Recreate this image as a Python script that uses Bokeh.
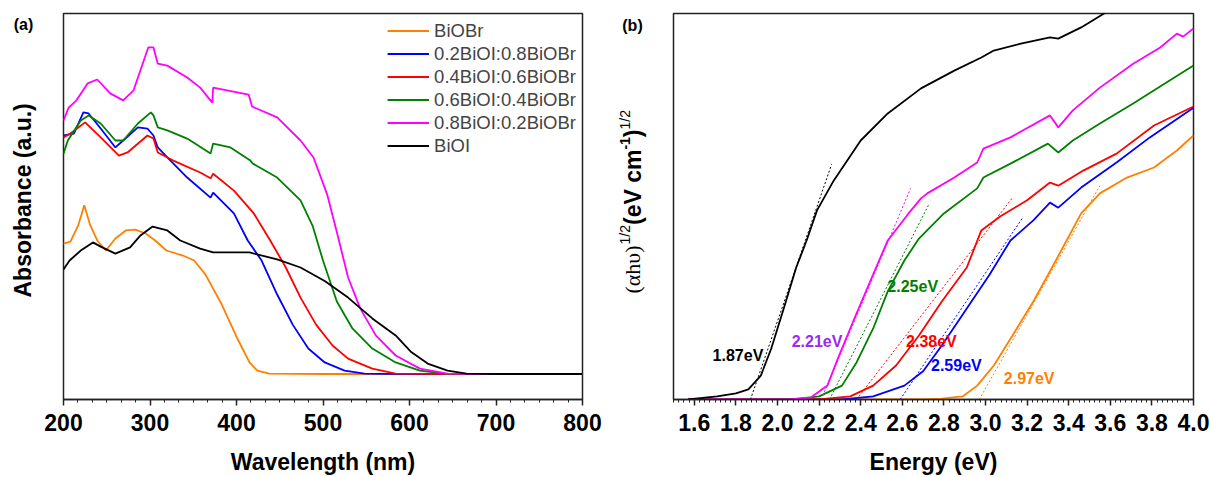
import math
from bokeh.plotting import figure
from bokeh.models import Range1d, FixedTicker, NumeralTickFormatter, Legend, LegendItem, ColumnDataSource
from bokeh.layouts import row
from bokeh.embed import file_html
from bokeh.resources import INLINE
from bokeh.core.properties import value

# ---------------- Panel (a): absorbance spectra ----------------
series_names = ["BiOBr", "0.2BiOI:0.8BiOBr", "0.4BiOI:0.6BiOBr",
                "0.6BiOI:0.4BiOBr", "0.8BiOI:0.2BiOBr", "BiOI"]
series_colors = ["#FF8000", "#0000FF", "#FF0000", "#008000", "#FF00FF", "#000000"]

wl_biobr = [200, 208, 217, 224, 231, 239, 249, 260, 272, 283, 295, 306, 319, 338, 351, 364,
            383, 401, 415, 424, 438, 500, 600, 700, 800]
ab_biobr = [0.404, 0.409, 0.451, 0.503, 0.451, 0.412, 0.386, 0.417, 0.438, 0.440, 0.430, 0.412,
            0.386, 0.373, 0.360, 0.324, 0.246, 0.158, 0.096, 0.075, 0.067, 0.066, 0.066, 0.066, 0.066]

wl_02 = [200, 212, 223, 229, 243, 260, 269, 286, 297, 304, 309, 320, 343, 370, 373, 397, 413,
         429, 447, 465, 483, 502, 525, 548, 600, 700, 800]
ab_02 = [0.684, 0.689, 0.744, 0.741, 0.702, 0.653, 0.671, 0.705, 0.702, 0.684, 0.653, 0.627,
         0.575, 0.523, 0.536, 0.482, 0.412, 0.360, 0.272, 0.194, 0.132, 0.096, 0.075, 0.067,
         0.066, 0.066, 0.066]

wl_04 = [200, 208, 225, 243, 264, 274, 297, 304, 309, 327, 358, 370, 373, 397, 420, 439, 457,
         474, 492, 511, 529, 557, 584, 650, 800]
ab_04 = [0.679, 0.689, 0.718, 0.679, 0.632, 0.640, 0.684, 0.676, 0.640, 0.619, 0.588, 0.573,
         0.585, 0.541, 0.482, 0.412, 0.342, 0.264, 0.194, 0.140, 0.106, 0.080, 0.067, 0.066, 0.066]

wl_06 = [200, 205, 220, 229, 243, 260, 269, 286, 301, 304, 309, 320, 343, 370, 373, 393, 416,
         419, 447, 474, 488, 500, 516, 534, 557, 584, 612, 640, 700, 800]
ab_06 = [0.637, 0.671, 0.723, 0.736, 0.715, 0.671, 0.671, 0.715, 0.744, 0.736, 0.705, 0.697,
         0.676, 0.637, 0.663, 0.653, 0.619, 0.611, 0.575, 0.516, 0.450, 0.360, 0.254, 0.184,
         0.132, 0.096, 0.075, 0.067, 0.066, 0.066]

wl_08 = [200, 206, 215, 228, 239, 254, 269, 281, 298, 304, 309, 320, 343, 358, 372, 373, 414,
         418, 447, 474, 489, 505, 517, 529, 543, 561, 584, 612, 644, 700, 800]
ab_08 = [0.723, 0.756, 0.775, 0.819, 0.829, 0.793, 0.775, 0.801, 0.912, 0.912, 0.870, 0.865,
         0.834, 0.808, 0.769, 0.808, 0.790, 0.759, 0.731, 0.671, 0.627, 0.530, 0.425, 0.316,
         0.236, 0.166, 0.114, 0.080, 0.067, 0.066, 0.066]

wl_bioi = [200, 207, 220, 234, 243, 260, 277, 289, 303, 320, 335, 358, 373, 415, 447, 474, 502,
           529, 557, 584, 602, 621, 644, 666, 700, 800]
ab_bioi = [0.337, 0.360, 0.386, 0.407, 0.396, 0.378, 0.394, 0.425, 0.448, 0.438, 0.412, 0.391,
           0.381, 0.381, 0.363, 0.342, 0.307, 0.264, 0.210, 0.166, 0.123, 0.093, 0.075, 0.067,
           0.066, 0.066]

wl_ticks = [200, 300, 400, 500, 600, 700, 800]

# ---------------- Panel (b): Tauc plots ----------------
en_biobr = [1.57, 2.70, 2.79, 2.89, 2.96, 3.04, 3.13, 3.23, 3.32, 3.39, 3.46, 3.55, 3.68, 3.81, 3.92, 4.00]
ta_biobr = [0.0, 0.0, 0.002, 0.008, 0.036, 0.088, 0.166, 0.254, 0.342, 0.412, 0.482, 0.534,
            0.575, 0.601, 0.645, 0.684]

en_02 = [1.57, 2.31, 2.46, 2.61, 2.70, 2.79, 2.91, 3.02, 3.12, 3.23, 3.31, 3.35, 3.46, 3.63, 3.79, 4.00]
ta_02 = [0.0, 0.0, 0.008, 0.036, 0.073, 0.140, 0.236, 0.324, 0.412, 0.464, 0.510, 0.497, 0.549,
         0.614, 0.679, 0.756]

en_04 = [1.57, 2.20, 2.35, 2.46, 2.57, 2.68, 2.79, 2.91, 2.98, 3.07, 3.20, 3.31, 3.35, 3.47, 3.63, 3.81, 4.00]
ta_04 = [0.0, 0.0, 0.008, 0.036, 0.088, 0.166, 0.254, 0.342, 0.438, 0.474, 0.516, 0.562, 0.554,
         0.593, 0.637, 0.710, 0.759]

en_06 = [1.57, 2.07, 2.20, 2.31, 2.38, 2.46, 2.53, 2.61, 2.68, 2.80, 2.96, 2.99, 3.12, 3.30, 3.35,
         3.42, 3.55, 3.71, 3.87, 4.00]
ta_06 = [0.0, 0.0, 0.008, 0.036, 0.096, 0.184, 0.280, 0.360, 0.417, 0.482, 0.547, 0.575, 0.611,
         0.663, 0.640, 0.671, 0.715, 0.767, 0.821, 0.865]

en_08 = [1.57, 2.05, 2.16, 2.24, 2.29, 2.37, 2.46, 2.53, 2.63, 2.69, 2.72, 2.85, 2.96, 2.99, 3.12,
         3.31, 3.35, 3.42, 3.55, 3.71, 3.84, 3.92, 3.95, 4.00]
ta_08 = [0.0, 0.0, 0.005, 0.036, 0.106, 0.210, 0.324, 0.412, 0.482, 0.521, 0.534, 0.575, 0.614,
         0.650, 0.679, 0.736, 0.705, 0.749, 0.808, 0.870, 0.912, 0.948, 0.940, 0.961]

en_bioi = [1.57, 1.71, 1.80, 1.86, 1.92, 1.97, 2.03, 2.09, 2.14, 2.19, 2.27, 2.40, 2.53, 2.69, 2.85,
           2.98, 3.04, 3.17, 3.31, 3.35, 3.46, 3.57, 3.70]
ta_bioi = [0.0, 0.008, 0.016, 0.026, 0.062, 0.132, 0.236, 0.342, 0.412, 0.490, 0.567, 0.671,
           0.741, 0.806, 0.852, 0.886, 0.904, 0.922, 0.938, 0.935, 0.964, 1.0, 1.041]

# band-gap tangent lines: start energy = Eg, end energy, end value
tan_start = [2.97, 2.59, 2.38, 2.25, 2.21, 1.87]
tan_end_e = [3.55, 3.18, 3.13, 2.73, 2.64, 2.26]
tan_end_v = [0.554, 0.472, 0.523, 0.508, 0.547, 0.609]

gap_text = ["2.97eV", "2.59eV", "2.38eV", "2.25eV", "2.21eV", "1.87eV"]
gap_x = [3.21, 2.86, 2.74, 2.65, 2.19, 1.81]
gap_y = [0.054, 0.088, 0.150, 0.293, 0.150, 0.114]
gap_colors = ["#FF8000", "#0000FF", "#FF0000", "#008000", "#9A2BF0", "#000000"]

en_ticks = [1.6, 1.8, 2.0, 2.2, 2.4, 2.6, 2.8, 3.0, 3.2, 3.4, 3.6, 3.8, 4.0]

FONT = "Liberation Sans"
AX = "#222222"
H = 477
TOP, BOT = 13, 78          # borders above / below the plot frames
FH = H - TOP - BOT         # frame height (386)


def style(p, ticks, minor):
    p.outline_line_color = AX
    p.outline_line_width = 1.5
    p.xgrid.visible = False
    p.ygrid.visible = False
    p.yaxis.visible = False
    p.background_fill_color = "white"
    p.border_fill_color = "white"
    xa = p.xaxis[0]
    xa.ticker = FixedTicker(ticks=ticks, minor_ticks=minor)
    xa.axis_line_color = AX
    xa.axis_line_width = 1.5
    xa.major_tick_in = 0
    xa.major_tick_out = 6
    xa.minor_tick_in = 0
    xa.minor_tick_out = 3
    xa.major_tick_line_color = AX
    xa.minor_tick_line_color = AX
    xa.major_tick_line_width = 1.5
    xa.minor_tick_line_width = 1
    xa.major_label_text_font = FONT
    xa.major_label_text_font_size = "23px"
    xa.major_label_text_font_style = "bold"
    xa.major_label_text_color = "black"
    xa.major_label_standoff = 8
    xa.axis_label_text_font = FONT
    xa.axis_label_text_font_size = "23px"
    xa.axis_label_text_font_style = "bold"
    xa.axis_label_text_color = "black"
    xa.axis_label_standoff = 15


def label_fig(x0, w):
    # a blank strip whose data coordinates equal page pixels (y measured upward from page bottom)
    f = figure(frame_width=w, frame_height=FH, x_range=Range1d(x0, x0 + w),
               y_range=Range1d(BOT, H - TOP),
               x_axis_type=None, y_axis_type=None, output_backend="svg", toolbar_location=None,
               min_border_left=0, min_border_right=0, min_border_top=TOP, min_border_bottom=BOT)
    f.outline_line_color = None
    f.xgrid.visible = False
    f.ygrid.visible = False
    f.background_fill_color = "white"
    f.border_fill_color = "white"
    return f


# ---- left label strip (page x 0..38)
la = label_fig(0, 38)
la.text(x=[22], y=[H - 297], text=["Absorbance (a.u.)"], angle=math.pi / 2, text_align="left",
        text_baseline="middle", text_font=value(FONT), text_font_size="23px",
        text_font_style="bold", text_color="black")
la.text(x=[23], y=[H - 24], text=["(a)"], text_align="center", text_baseline="middle",
        text_font=value(FONT), text_font_size="16px", text_font_style="bold", text_color="black")

# ---- figure (a): frame page x 63..582, y 13..399
pa = figure(frame_width=519, frame_height=FH, x_range=Range1d(200, 800), y_range=Range1d(0, 1),
            output_backend="svg", toolbar_location=None,
            min_border_left=25, min_border_right=22, min_border_top=TOP, min_border_bottom=BOT)
minor_a = [200 + i * 100 / 6 for i in range(37)]
style(pa, wl_ticks, minor_a)
pa.xaxis[0].axis_label = "Wavelength (nm)"

wl_all = [wl_biobr, wl_02, wl_04, wl_06, wl_08, wl_bioi]
ab_all = [ab_biobr, ab_02, ab_04, ab_06, ab_08, ab_bioi]
items = []
for name, col, xs, ys in zip(series_names, series_colors, wl_all, ab_all):
    r = pa.line(xs, ys, line_color=col, line_width=1.8)
    items.append(LegendItem(label=name, renderers=[r]))
leg = Legend(items=items, location="top_right", margin=1, padding=5,
             label_text_font=FONT, label_text_font_size="18.5px", label_height=23,
             glyph_height=23, glyph_width=42, label_standoff=5, spacing=0,
             border_line_alpha=0, background_fill_alpha=0)
pa.add_layout(leg)

# ---- middle label strip (page x 604..668)
lb = label_fig(604, 64)
lb.text(x=[632], y=[H - 25], text=["(b)"], text_align="center", text_baseline="middle",
        text_font=value(FONT), text_font_size="16px", text_font_style="bold", text_color="black")
pieces = ["(\u03b1h\u03c5)", "1/2", "(eV cm", "-1", ")", "1/2"]
fonts = ["Liberation Serif", FONT, FONT, FONT, FONT, FONT]
sizes = [22, 14, 23, 14, 23, 14]
styles = ["normal", "normal", "bold", "bold", "bold", "normal"]
lengths = [49, 19.5, 75.4, 12.4, 7.7, 19.5]
offs = [0, -8, 0, -8, 0, -8]
ypos = H - 293
for t, f, s, st, L, o in zip(pieces, fonts, sizes, styles, lengths, offs):
    lb.text(x=[632 + o], y=[ypos], text=[t], angle=math.pi / 2, text_align="left",
            text_baseline="middle", text_font=value(f), text_font_size=f"{s}px",
            text_font_style=st, text_color="black")
    ypos += L

# ---- figure (b): frame page x 673..1193
pb = figure(frame_width=520, frame_height=FH, x_range=Range1d(1.5, 4.0), y_range=Range1d(0, 1),
            output_backend="svg", toolbar_location=None,
            min_border_left=5, min_border_right=17, min_border_top=TOP, min_border_bottom=BOT)
minor_b = [1.5 + i * 0.025 for i in range(101)]
style(pb, en_ticks, minor_b)
pb.xaxis[0].formatter = NumeralTickFormatter(format="0.0")
pb.xaxis[0].axis_label = "Energy (eV)"

en_all = [en_biobr, en_02, en_04, en_06, en_08, en_bioi]
ta_all = [ta_biobr, ta_02, ta_04, ta_06, ta_08, ta_bioi]
for col, xs, ys in zip(series_colors, en_all, ta_all):
    pb.line(xs, ys, line_color=col, line_width=1.8)

for col, e0, e1, v1 in zip(series_colors, tan_start, tan_end_e, tan_end_v):
    pb.line([e0, e1], [0, v1], line_color=col, line_width=1, line_dash="2 2")

src = ColumnDataSource(dict(x=gap_x, y=gap_y, t=gap_text, c=gap_colors))
pb.text(x="x", y="y", text="t", text_color="c", source=src, text_align="center",
        text_baseline="middle", text_font=value(FONT), text_font_size="16px",
        text_font_style="bold")

layout = row(la, pa, lb, pb)
open("out.html", "w").write(file_html(layout, INLINE))
